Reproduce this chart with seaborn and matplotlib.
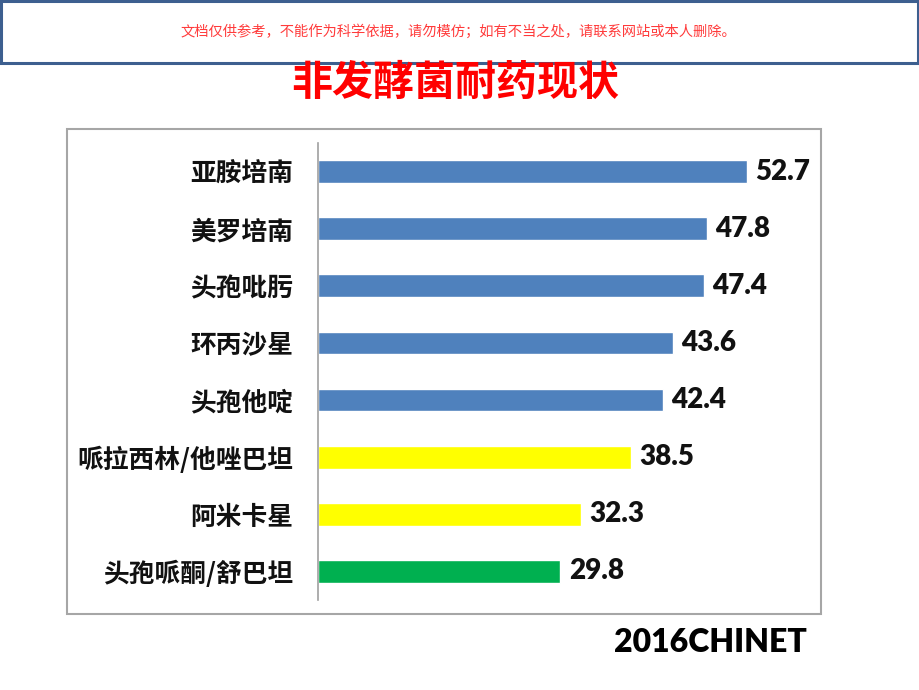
import matplotlib
matplotlib.use("Agg")
import matplotlib.pyplot as plt
import seaborn as sns
from matplotlib.patches import Rectangle

# data
drugs = ["亚胺培南", "美罗培南", "头孢吡肟", "环丙沙星", "头孢他啶",
         "哌拉西林/他唑巴坦", "阿米卡星", "头孢哌酮/舒巴坦"]
rates = [52.7, 47.8, 47.4, 43.6, 42.4, 38.5, 32.3, 29.8]
bar_colors = ["#4f81bd"] * 5 + ["#ffff00"] * 2 + ["#00b050"]

sns.set_style("white")
plt.rcParams["font.family"] = ["Noto Sans CJK SC", "DejaVu Sans"]

W, H = 920, 690
fig = plt.figure(figsize=(W / 100, H / 100), dpi=100)

# watermark box at the top
fig.patches.append(Rectangle((1 / W, 1 - 63 / H), 1 - 3 / W, 62 / H,
                             transform=fig.transFigure, fill=False,
                             edgecolor="#3d5f8f", linewidth=2.2))
fig.text(458 / W, 1 - 31 / H,
         "文档仅供参考，不能作为科学依据，请勿模仿；如有不当之处，请联系网站或本人删除。",
         ha="center", va="center", fontsize=10.3, color="#ff3b3b")

fig.text(455 / W, 1 - 83 / H, "非发酵菌耐药现状", ha="center", va="center",
         fontsize=29.5, fontweight="black", color="#ff0000")

# chart frame
fig.patches.append(Rectangle((67 / W, 1 - 614 / H), 754 / W, 485 / H,
                             transform=fig.transFigure, fill=False,
                             edgecolor="#a6a6a6", linewidth=1.5))

ax = fig.add_axes([318 / W, 1 - 600 / H, 488 / W, 457 / H])
sns.barplot(x=rates, y=drugs, hue=drugs, palette=bar_colors, legend=False,
            orient="h", width=0.4, saturation=1, ax=ax)

for cont in ax.containers:
    ax.bar_label(cont, fmt="%.1f", padding=6, fontsize=20, fontweight="heavy",
                 family=["Lato", "DejaVu Sans"], color="#111111")

ax.set_xlim(0, 60)
ax.set_ylim(7.5, -0.5)
ax.set_xlabel("")
ax.set_ylabel("")
ax.set_xticks([])
for s in ["top", "right", "bottom"]:
    ax.spines[s].set_visible(False)
ax.spines["left"].set_color("#a0a0a0")
ax.spines["left"].set_linewidth(1.2)
ax.tick_params(axis="y", length=0, pad=18)
for lab in ax.get_yticklabels():
    lab.set_fontsize(18.5)
    lab.set_fontweight("heavy")
    lab.set_color("#111111")

fig.text(807 / W, 1 - 643 / H, "2016CHINET", ha="right", va="center",
         fontsize=23, fontweight="heavy", family=["Lato", "DejaVu Sans"],
         color="#000000")

fig.savefig("out.png", dpi=100)
